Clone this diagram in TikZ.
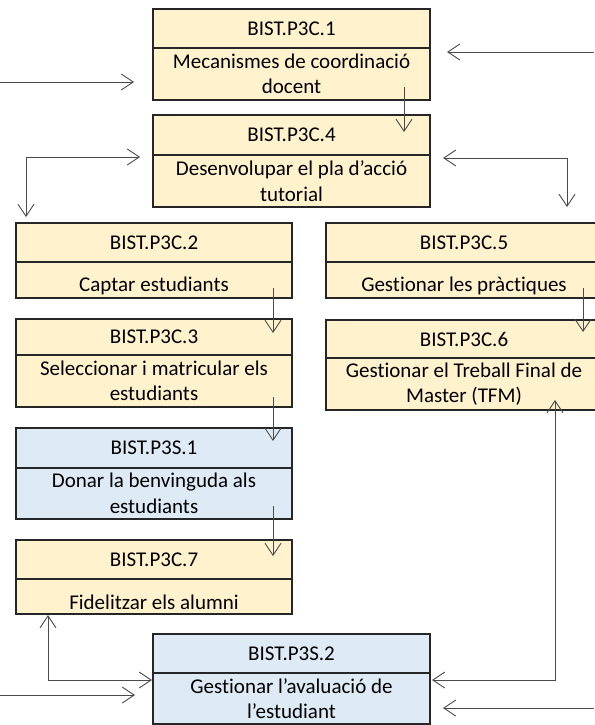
\documentclass[tikz,border=0pt]{standalone}
\usepackage{fontspec}
\setmainfont{Carlito}[Ligatures=NoCommon]
\usetikzlibrary{arrows.meta,calc}
\definecolor{beige}{HTML}{FFF2CC}
\definecolor{lblue}{HTML}{DEEBF7}
\definecolor{conn}{HTML}{4A4A4A}
\begin{document}
\begin{tikzpicture}[x=1pt,y=-1pt,
  part/.style={draw=black!85, line width=1.6pt, anchor=north west, inner sep=0pt, outer sep=0pt,
    align=center, font=\fontsize{21}{25.5}\selectfont, minimum width=277pt},
  wide/.style={minimum width=276pt},
  yel/.style={part, fill=beige},
  blu/.style={part, fill=lblue},
  oneline/.style={text height=26pt},
  arr/.style={draw=conn, line width=0.9pt, -{Straight Barb[length=12pt,width=16pt]}},
  arrb/.style={draw=conn, line width=0.9pt, {Straight Barb[length=12pt,width=16pt]}-{Straight Barb[length=12pt,width=16pt]}}]
\useasboundingbox (0,0) rectangle (594,725);
% box 1
\node[yel, minimum height=39pt] (h1) at (153,9) {BIST.P3C.1};
\node[yel, minimum height=52pt] (b1) at (153,48) {Mecanismes de coordinació\\docent};
% box 4
\node[yel, minimum height=40pt] (h4) at (153,115) {BIST.P3C.4};
\node[yel, minimum height=52pt] (b4) at (153,155) {Desenvolupar el pla d’acció\\tutorial};
% box 2
\node[yel, wide, minimum height=39pt] (h2) at (16,223) {BIST.P3C.2};
\node[yel, wide, oneline, minimum height=36pt] (b2) at (16,262) {Captar estudiants};
% box 5
\node[yel, wide, minimum height=39pt] (h5) at (326,223) {BIST.P3C.5};
\node[yel, wide, oneline, minimum height=36pt] (b5) at (326,262) {Gestionar les pràctiques};
% box 3
\node[yel, wide, minimum height=36pt] (h3) at (16,319) {BIST.P3C.3};
\node[yel, wide, minimum height=52pt] (b3) at (16,355) {Seleccionar i matricular els\\estudiants};
% box 6
\node[yel, wide, minimum height=38pt] (h6) at (326,320) {BIST.P3C.6};
\node[yel, wide, minimum height=52pt] (b6) at (326,358) {Gestionar el Treball Final de\\Master (TFM)};
% box S1
\node[blu, wide, minimum height=40pt] (hS1) at (16,428) {BIST.P3S.1};
\node[blu, wide, minimum height=51pt] (bS1) at (16,468) {Donar la benvinguda als\\estudiants};
% box 7
\node[yel, wide, minimum height=39pt] (h7) at (16,540) {BIST.P3C.7};
\node[yel, wide, oneline, minimum height=35pt] (b7) at (16,579) {Fidelitzar els alumni};
% box S2
\node[blu, minimum height=39pt] (hS2) at (153,634) {BIST.P3S.2};
\node[blu, minimum height=51pt] (bS2) at (153,673) {Gestionar l’avaluació de\\l’estudiant};
% free ends
\coordinate (lt) at (0,82);
\coordinate (rt) at (594,52);
\coordinate (lb) at (0,695);
\coordinate (rb) at (594,708);
% connectors
\draw[arr] (lt) -- ([xshift=-19pt]b1.west |- lt);
\draw[arr] (rt) -- ([xshift=17pt]h1.east |- rt);
\draw[arr] ([xshift=-26pt,yshift=13pt]b1.south east) -- ([xshift=-26pt,yshift=-17pt]h4.north east);
\draw[arrb] ([xshift=-13pt,yshift=-2pt]b4.north west) -| ([xshift=10pt,yshift=6pt]h2.north west);
\draw[arrb] ([xshift=13pt,yshift=-3pt]b4.north east) -| ([xshift=241pt,yshift=16pt]h5.north west);
\draw[arr] ([xshift=-19pt,yshift=10pt]b2.south east) -- ([xshift=-19pt,yshift=-14pt]h3.north east);
\draw[arr] ([xshift=257pt,yshift=10pt]b5.south west) -- ([xshift=257pt,yshift=-12pt]h6.north west);
\draw[arr] ([xshift=-19pt,yshift=10pt]b3.south east) -- ([xshift=-19pt,yshift=-13pt]hS1.north east);
\draw[arr] ([xshift=-19pt,yshift=13pt]bS1.south east) -- ([xshift=-19pt,yshift=-16pt]h7.north east);
\draw[arrb] ([xshift=229pt,yshift=10pt]b6.south west) |- ([xshift=2pt,yshift=-7pt]bS2.north east);
\draw[arrb] ([xshift=32pt,yshift=-1pt]b7.south west) |- ([xshift=-1pt,yshift=-7pt]bS2.north west);
\draw[arr] (rb) -- ([xshift=13pt]bS2.east |- rb);
\draw[arr] (lb) -- ([xshift=-18pt]bS2.west |- lb);
\end{tikzpicture}
\end{document}
